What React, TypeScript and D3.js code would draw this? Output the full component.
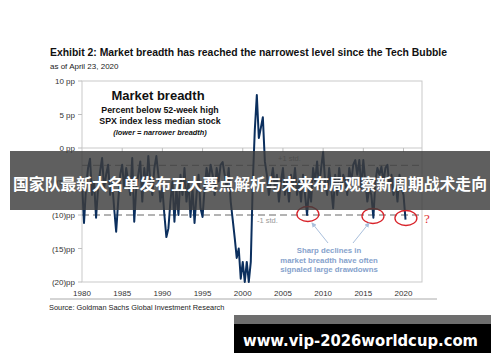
import React from 'react';
import * as d3 from 'd3';

// Percent below 52-week high: SPX index less median stock (pp), quarterly readings
const startYear = 1980;
const breadth: number[] = [
  -5, -11.2, -6, -3, // 1980
  -1.6, -7, -5, -10.4, // 1981
  -6, -3.5, -1.5, -6, // 1982
  -4, -2.5, -7, -5, // 1983
  -9, -12.5, -8, -4, // 1984
  -2.5, -6, -3, -5, // 1985
  -7, -1.5, -11, -6, // 1986
  -4, -2, -8, -3, // 1987
  -6, -1.2, -5, -7, // 1988
  -3, -1.2, -4, -8, // 1989
  -6, -10, -13.3, -12, // 1990
  -8, -5, -11, -6, // 1991
  -10, -4, -7, -3, // 1992
  -8, -5, -10.3, -6, // 1993
  -11.2, -7, -4, -9, // 1994
  -10.3, -6, -3, -5, // 1995
  -2.5, -4, -7, -3, // 1996
  -5, -2.5, -2.1, -4, // 1997
  -6, -3, -8, -10.7, // 1998
  -13.4, -16.4, -15, -19.5, // 1999
  -17, -20, -17, -20, // 2000
  -17, -5, 2.7, 7.9, // 2001
  1.5, 3, 4.6, -2, // 2002
  -4, -7, -5, -3, // 2003
  -6, -4, -8, -5, // 2004
  -3, -7, -5, -8, // 2005
  -4, -6, -3, -7, // 2006
  -5, -8, -4, -7, // 2007
  -10, -6, -8, -3, // 2008
  -5, -2, -6, -3, // 2009
  -0.6, -5, -7, -3, // 2010
  -6, -9, -4, -7, // 2011
  -3, -6, -4, -5, // 2012
  -7, -3, -5, -2.5, // 2013
  -1.8, -4, -1.8, -6, // 2014
  -1.8, -5, -8, -6, // 2015
  -7, -10.4, -5, -3, // 2016
  -4, -2.8, -5, -3, // 2017
  -2.5, -6, -4, -7, // 2018
  -5, -8, -4, -6, // 2019
  -7, -10.7, // 2020
];

const yTicks = [10, 5, 0, -5, -10, -15, -20];
const yTickLabels = ['10 pp', '5 pp', '0 pp', '(5)pp', '(10)pp', '(15)pp', '(20)pp'];
const xTicks = [1980, 1985, 1990, 1995, 2000, 2005, 2010, 2015, 2020];

const plusStd = -2.6;
const minusStd = -10;

// dips highlighted with red circles: [year, value]
const dips: [number, number][] = [
  [2008.1, -10],
  [2016.2, -10.3],
  [2020.3, -10.6],
];

const boxLines = ['Percent below 52-week high', 'SPX index less median stock'];
const noteLines = ['Sharp declines in', 'market breadth have often', 'signaled large drawdowns'];

const App: React.FC = () => {
  const width = 500;
  const height = 362;
  const left = 82;
  const right = 422;
  const top = 81;
  const bottom = 282;

  const x = d3.scaleLinear().domain([1980, 2022.3]).range([left, right]);
  const y = d3.scaleLinear().domain([10, -20]).range([top, bottom]);

  const points: [number, number][] = breadth.map((v, i) => [startYear + i * 0.25, v]);
  const line = d3
    .line<[number, number]>()
    .x((d) => x(d[0]))
    .y((d) => y(d[1]));

  const font = 'Arial, "Liberation Sans", sans-serif';

  return (
    <svg
      width={width}
      height={height}
      style={{ position: 'absolute', left: 0, top: 0, background: '#fff' }}
      fontFamily={font}
    >
      <defs>
        <marker id="arr" viewBox="0 0 6 6" refX="5" refY="3" markerWidth="5" markerHeight="5" orient="auto">
          <path d="M0,0 L6,3 L0,6 z" fill="#a9bfdc" />
        </marker>
      </defs>

      {/* title */}
      <text x={50} y={56} fontSize={10} fontWeight="bold" fill="#111" textLength={397} lengthAdjust="spacingAndGlyphs">
        Exhibit 2: Market breadth has reached the narrowest level since the Tech Bubble
      </text>
      <text x={50} y={69} fontSize={8} fill="#222">
        as of April 23, 2020
      </text>

      {/* plot frame */}
      <rect x={left} y={top} width={right - left} height={bottom - top} fill="none" stroke="#c9c9c9" strokeWidth={1} />

      {/* y axis */}
      {yTicks.map((t, i) => (
        <g key={t}>
          <line x1={left - 4} x2={left} y1={y(t)} y2={y(t)} stroke="#bdbdbd" />
          <text x={left - 7} y={y(t) + 3} fontSize={8} textAnchor="end" fill="#333">
            {yTickLabels[i]}
          </text>
        </g>
      ))}

      {/* zero line with ticks */}
      <line x1={left} x2={right} y1={y(0)} y2={y(0)} stroke="#c9c9c9" />
      {xTicks.map((t) => (
        <g key={t}>
          {t > 1980 && <line x1={x(t)} x2={x(t)} y1={y(0)} y2={y(0) + 4} stroke="#bdbdbd" />}
          <text x={x(t)} y={296} fontSize={8} textAnchor="middle" fill="#333">
            {t}
          </text>
        </g>
      ))}

      {/* std lines */}
      <line x1={left} x2={right - 2} y1={y(plusStd)} y2={y(plusStd)} stroke="#9a9a9a" strokeWidth={1.3} strokeDasharray="7,4" />
      <line x1={left} x2={right - 2} y1={y(minusStd)} y2={y(minusStd)} stroke="#9a9a9a" strokeWidth={1.3} strokeDasharray="7,4" />
      <text x={278} y={161} fontSize={7.5} fill="#999">+1 std.</text>
      <text x={257} y={223} fontSize={7.5} fill="#999">-1 std.</text>

      {/* series */}
      <path d={line(points) || ''} fill="none" stroke="#0b2f5e" strokeWidth={2} strokeLinejoin="round" />

      {/* box annotation */}
      <text x={158} y={100} fontSize={13} fontWeight="bold" textAnchor="middle" fill="#111">
        Market breadth
      </text>
      {boxLines.map((s, i) => (
        <text key={s} x={160} y={113 + i * 11} fontSize={8.8} fontWeight="bold" textAnchor="middle" fill="#111">
          {s}
        </text>
      ))}
      <text x={160} y={135} fontSize={7.4} fontWeight="bold" fontStyle="italic" textAnchor="middle" fill="#111">
        (lower = narrower  breadth)
      </text>

      {/* dips */}
      {dips.map(([yr, v]) => (
        <ellipse key={yr} cx={x(yr)} cy={y(v) - 1} rx={11} ry={7.5} fill="none" stroke="#d8232a" strokeWidth={1.3} />
      ))}
      <text x={424} y={223} fontSize={13} fill="#e0302f" fontFamily='"Liberation Serif", serif'>?</text>

      {/* arrows */}
      <line x1={328} y1={243} x2={312} y2={223} stroke="#a9bfdc" strokeWidth={1} markerEnd="url(#arr)" />
      <line x1={353} y1={243} x2={369} y2={223} stroke="#a9bfdc" strokeWidth={1} markerEnd="url(#arr)" />
      {noteLines.map((s, i) => (
        <text key={s} x={329} y={253 + i * 9.6} fontSize={7.8} fontWeight="bold" textAnchor="middle" fill="#86a2cc">
          {s}
        </text>
      ))}

      {/* footer */}
      <line x1={50} x2={437} y1={299} y2={299} stroke="#aaa" strokeWidth={1} />
      <text x={49} y={310} fontSize={7.4} fill="#222">
        Source: Goldman Sachs Global Investment Research
      </text>

      {/* banner overlay */}
      <rect x={10} y={151} width={480} height={59} fill="rgb(60,60,60)" fillOpacity={0.82} />
      <text
        x={250}
        y={190}
        fontSize={15.8}
        fontWeight="bold"
        textAnchor="middle"
        fill="#fff"
        fontFamily='"Noto Sans CJK SC", sans-serif'
      >
        国家队最新大名单发布五大要点解析与未来布局观察新周期战术走向
      </text>

      {/* watermark */}
      <rect x={234} y={315} width={257} height={38} fill="#000" />
      <rect x={234} y={315} width={257} height={9} fill="#6e6e6e" />
      <text
        x={243}
        y={346}
        fontSize={16}
        fontWeight="bold"
        fill="#fff"
        fontFamily='"DejaVu Sans", sans-serif'
        textLength={235}
        lengthAdjust="spacingAndGlyphs"
      >
        www.vip-2026worldcup.com
      </text>
    </svg>
  );
};

export default App;
